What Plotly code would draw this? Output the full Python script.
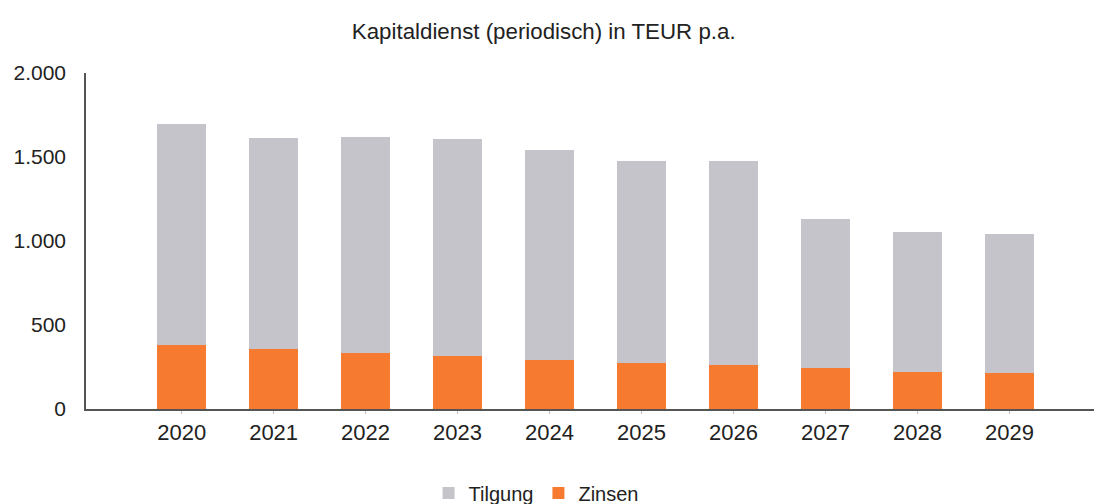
import plotly.graph_objects as go

# Kapitaldienst in TEUR p.a.
jahre = ["2020", "2021", "2022", "2023", "2024", "2025", "2026", "2027", "2028", "2029"]
zinsen = [380, 360, 336, 316, 290, 274, 260, 244, 220, 214]
tilgung = [1318, 1254, 1282, 1292, 1254, 1200, 1216, 889, 833, 829]

fig = go.Figure()
# Zinsen first so it sits at the bottom of the stack
fig.add_trace(go.Bar(x=jahre, y=zinsen, name="Zinsen", marker_color="#f67a30",
                     marker_line_width=0))
fig.add_trace(go.Bar(x=jahre, y=tilgung, name="Tilgung", marker_color="#c4c4ca",
                     marker_line_width=0))

fig.update_layout(
    barmode="stack",
    bargap=0.46,
    width=1094, height=504,
    margin=dict(l=86, r=0, t=73, b=95),
    paper_bgcolor="white", plot_bgcolor="white",
    separators=",.",
    font=dict(family="Liberation Sans, Arial", size=21, color="#222"),
    title=dict(text="Kapitaldienst (periodisch) in TEUR p.a.", x=0.497, xref="container",
               xanchor="center", y=0.938, yref="container", yanchor="middle",
               font=dict(size=22.3)),
    legend=dict(orientation="h", traceorder="reversed", xref="container", yref="container",
                x=0.49, xanchor="center", y=0.022, yanchor="middle",
                font=dict(size=20)),
)

fig.update_xaxes(type="category", range=[-1.04, 9.92], showline=True, linecolor="#555",
                 linewidth=1.5, ticks="outside", ticklen=3, tickcolor="#bbb",
                 ticklabelstandoff=0, tickfont=dict(size=22), showgrid=False)
fig.update_yaxes(range=[0, 2000], tickvals=[0, 500, 1000, 1500, 2000], separatethousands=True,
                 showline=True, linecolor="#555", linewidth=1.5, showgrid=False,
                 zeroline=False, ticks="", ticklabelstandoff=14)

# no page margin so the figure sits at the window's corner
fig.write_html("out.html", config={"displayModeBar": False},
               post_script="document.body.style.margin='0';")
